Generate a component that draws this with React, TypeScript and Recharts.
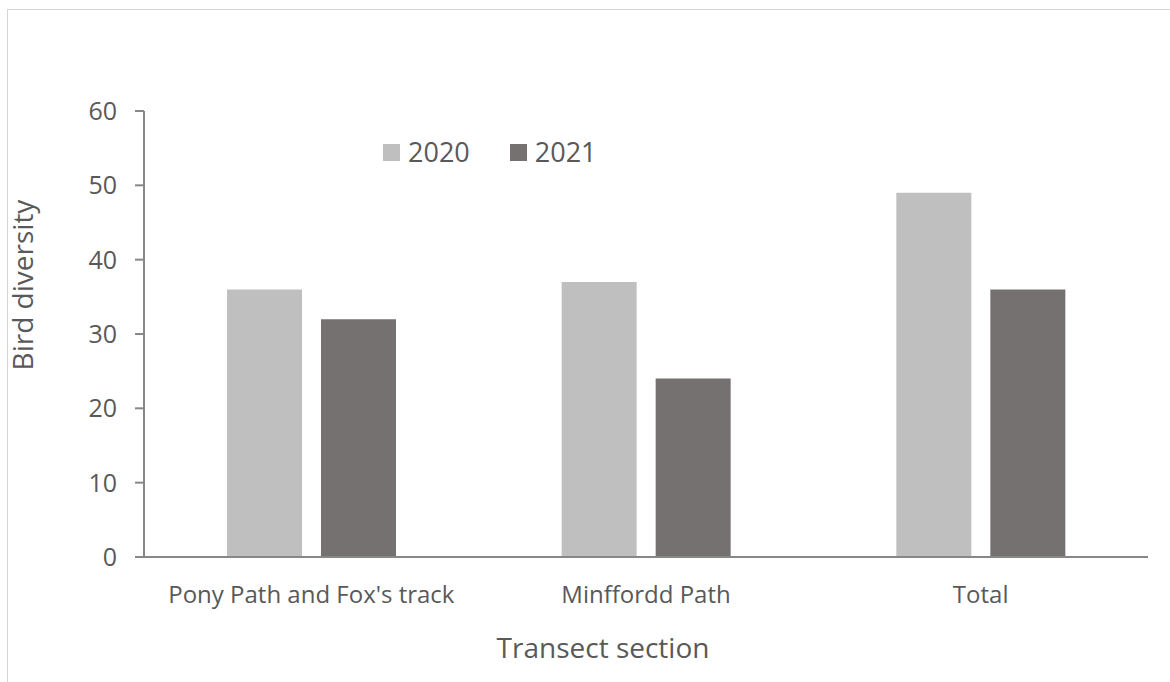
import { Bar, BarChart, XAxis, YAxis } from "recharts";

// Bird diversity per transect section, two survey years.
const SECTIONS = ["Pony Path and Fox's track", "Minffordd Path", "Total"];
const Y2020 = [36, 37, 49];
const Y2021 = [32, 24, 36];
const Y_TICKS = [0, 10, 20, 30, 40, 50, 60];
const SERIES = [
  { key: "y2020", label: "2020", color: "#bfbfbf" },
  { key: "y2021", label: "2021", color: "#767171" },
];

const data = SECTIONS.map((name, i) => ({ name, y2020: Y2020[i], y2021: Y2021[i] }));

const FONT = "'Open Sans', sans-serif";
const TEXT = "#595959";
const AXIS = "#878787";
const FRAME = "#d4d4d4";

export default function App() {
  return (
    <div style={{ position: "absolute", left: 0, top: 0, width: 1170, height: 682, background: "#fff" }}>
      {/* chart frame, cropped at right and bottom like the source image */}
      <div style={{ position: "absolute", left: 7, top: 9, width: 1163, height: 1, background: FRAME }} />
      <div style={{ position: "absolute", left: 7, top: 9, width: 1, height: 673, background: FRAME }} />
      <div style={{ position: "absolute", left: 8, top: 10 }}>
        <BarChart
          width={1162}
          height={672}
          data={data}
          margin={{ top: 101, right: 22, left: 0, bottom: 0 }}
          barCategoryGap="24.8%"
          barGap={19}
        >
          <XAxis
            dataKey="name"
            height={125}
            tickLine={false}
            axisLine={{ stroke: AXIS, strokeWidth: 2 }}
            tick={{ fill: TEXT, fontSize: 24, fontFamily: FONT }}
            tickMargin={23}
            interval={0}
          />
          <YAxis
            width={136}
            domain={[0, 60]}
            ticks={Y_TICKS}
            tickSize={9}
            tickMargin={18}
            axisLine={{ stroke: AXIS, strokeWidth: 2 }}
            tickLine={{ stroke: AXIS, strokeWidth: 2 }}
            tick={{ fill: TEXT, fontSize: 25, fontFamily: FONT }}
          />
          {SERIES.map((s) => (
            <Bar key={s.key} dataKey={s.key} fill={s.color} isAnimationActive={false} />
          ))}
        </BarChart>
      </div>
      <div
        style={{
          position: "absolute",
          left: 383,
          top: 134,
          display: "flex",
          gap: 40,
          fontFamily: FONT,
          fontSize: 27,
          color: TEXT,
          lineHeight: "36px",
        }}
      >
        {SERIES.map((s) => (
          <div key={s.key} style={{ display: "flex", alignItems: "center", gap: 8 }}>
            <span style={{ display: "inline-block", width: 17, height: 17, background: s.color }} />
            {s.label}
          </div>
        ))}
      </div>
      <div
        style={{
          position: "absolute",
          left: 22,
          top: 285,
          transform: "translate(-50%, -50%) rotate(-90deg)",
          fontFamily: FONT,
          fontSize: 28,
          color: TEXT,
          whiteSpace: "nowrap",
        }}
      >
        Bird diversity
      </div>
      <div
        style={{
          position: "absolute",
          left: 603,
          top: 647,
          transform: "translate(-50%, -50%)",
          fontFamily: FONT,
          fontSize: 28,
          color: TEXT,
          whiteSpace: "nowrap",
        }}
      >
        Transect section
      </div>
    </div>
  );
}
